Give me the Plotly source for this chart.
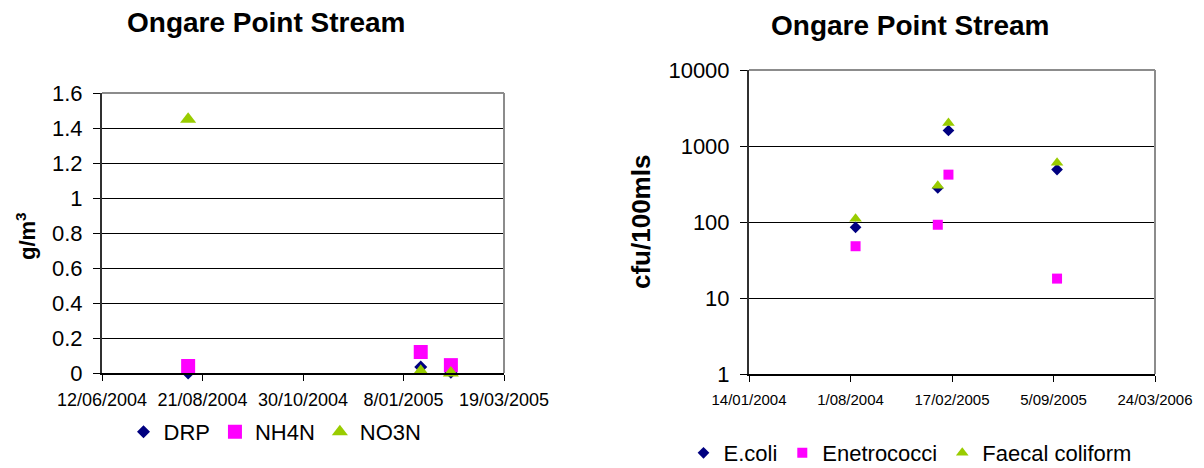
import plotly.graph_objects as go

# ---- Nutrients (g/m3), Ongare Point Stream ----
nutrient_dates = ["2004-08-11", "2005-01-20", "2005-02-10"]
drp = [0.0, 0.035, 0.005]
nh4n = [0.04, 0.12, 0.045]
no3n = [1.45, 0.01, 0.0]

# ---- Bacteria (cfu/100mls), Ongare Point Stream ----
bacteria_dates = ["2004-08-11", "2005-01-20", "2005-02-10", "2005-09-12"]
e_coli = [85, 280, 1600, 490]
enterococci = [48, 92, 420, 18]
faecal_coliform = [110, 300, 2000, 600]

# ---- Axis ticks ----
left_tick_dates = ["2004-06-12", "2004-08-21", "2004-10-30", "2005-01-08", "2005-03-19"]
left_tick_labels = ["12/06/2004", "21/08/2004", "30/10/2004", "8/01/2005", "19/03/2005"]
left_y_ticks = [0, 0.2, 0.4, 0.6, 0.8, 1.0, 1.2, 1.4, 1.6]

right_tick_dates = ["2004-01-14", "2004-08-01", "2005-02-17", "2005-09-05", "2006-03-24"]
right_tick_labels = ["14/01/2004", "1/08/2004", "17/02/2005", "5/09/2005", "24/03/2006"]
right_y_ticks = [1, 10, 100, 1000, 10000]

FONT = "Liberation Sans, Arial, sans-serif"
NAVY = "#000080"
MAGENTA = "#FF00FF"
LIME = "#99CC00"

W, H = 1204, 468

fig = go.Figure()

# Left panel: nutrients
fig.add_trace(go.Scatter(x=nutrient_dates, y=drp, name="DRP", mode="markers",
                         marker=dict(symbol="diamond", size=10, color=NAVY),
                         cliponaxis=False, xaxis="x", yaxis="y", legend="legend"))
fig.add_trace(go.Scatter(x=nutrient_dates, y=nh4n, name="NH4N", mode="markers",
                         marker=dict(symbol="square", size=14, color=MAGENTA),
                         cliponaxis=False, xaxis="x", yaxis="y", legend="legend"))
fig.add_trace(go.Scatter(x=nutrient_dates, y=no3n, name="NO3N", mode="markers",
                         marker=dict(symbol="triangle-up", size=14, color=LIME),
                         cliponaxis=False, xaxis="x", yaxis="y", legend="legend"))

# Right panel: bacteria
fig.add_trace(go.Scatter(x=bacteria_dates, y=e_coli, name="E.coli", mode="markers",
                         marker=dict(symbol="diamond", size=9, color=NAVY),
                         xaxis="x2", yaxis="y2", legend="legend2"))
fig.add_trace(go.Scatter(x=bacteria_dates, y=enterococci, name="Enetrococci", mode="markers",
                         marker=dict(symbol="square", size=10, color=MAGENTA),
                         xaxis="x2", yaxis="y2", legend="legend2"))
fig.add_trace(go.Scatter(x=bacteria_dates, y=faecal_coliform, name="Faecal coliform", mode="markers",
                         marker=dict(symbol="triangle-up", size=11, color=LIME),
                         xaxis="x2", yaxis="y2", legend="legend2"))


def px_x(v):
    return v / W


def px_y(v):
    return 1 - v / H


common_x = dict(type="date", tickmode="array", ticks="outside", ticklen=6,
                tickcolor="black", showline=True, linecolor="black", linewidth=2,
                showgrid=False, zeroline=False, fixedrange=True, automargin=False)

common_y = dict(tickmode="array", ticks="outside", ticklen=7, tickcolor="black",
                showline=True, linecolor="#303030", linewidth=2,
                showgrid=True, gridcolor="black", gridwidth=1, zeroline=False,
                fixedrange=True, automargin=False, ticklabelstandoff=6)

fig.update_layout(
    width=W, height=H,
    margin=dict(l=0, r=0, t=0, b=0, autoexpand=False),
    paper_bgcolor="white", plot_bgcolor="white",
    font=dict(family=FONT, color="black"),
    showlegend=True,
    xaxis=dict(common_x, domain=[px_x(102), px_x(504)], anchor="y",
               range=[left_tick_dates[0], left_tick_dates[-1]],
               tickvals=left_tick_dates, ticktext=left_tick_labels,
               tickfont=dict(size=18), ticklabelstandoff=3),
    yaxis=dict(common_y, domain=[px_y(373), px_y(93)], anchor="x", range=[0, 1.6],
               tickvals=left_y_ticks, tickfont=dict(size=22)),
    xaxis2=dict(common_x, domain=[px_x(749), px_x(1155)], anchor="y2",
                range=[right_tick_dates[0], right_tick_dates[-1]],
                tickvals=right_tick_dates, ticktext=right_tick_labels,
                tickfont=dict(size=15), ticklabelstandoff=5),
    yaxis2=dict(common_y, domain=[px_y(374), px_y(70)], anchor="x2", type="log", range=[0, 4],
                tickvals=right_y_ticks, ticktext=[str(v) for v in right_y_ticks],
                tickfont=dict(size=22)),
    legend=dict(orientation="h", x=px_x(275), xanchor="center",
                y=px_y(432), yanchor="middle", font=dict(size=22),
                bgcolor="rgba(0,0,0,0)", itemwidth=30),
    legend2=dict(orientation="h", x=px_x(910), xanchor="center",
                 y=px_y(453), yanchor="middle", font=dict(size=22),
                 bgcolor="rgba(0,0,0,0)", itemwidth=30),
)

# Gray top and right borders of each plot area
for xr, yr in (("x domain", "y domain"), ("x2 domain", "y2 domain")):
    fig.add_shape(type="line", xref=xr, yref=yr, x0=0, x1=1, y0=1, y1=1,
                  line=dict(color="#8c8c8c", width=2), layer="above")
    fig.add_shape(type="line", xref=xr, yref=yr, x0=1, x1=1, y0=0, y1=1,
                  line=dict(color="#8c8c8c", width=2), layer="above")

# Chart titles
fig.add_annotation(text="<b>Ongare Point Stream</b>", xref="paper", yref="paper",
                   x=px_x(266), y=px_y(22), xanchor="center", yanchor="middle",
                   showarrow=False, font=dict(size=28))
fig.add_annotation(text="<b>Ongare Point Stream</b>", xref="paper", yref="paper",
                   x=px_x(910), y=px_y(25), xanchor="center", yanchor="middle",
                   showarrow=False, font=dict(size=28))

# Y-axis titles
fig.add_annotation(text="<b>g/m<sup>3</sup></b>", xref="paper", yref="paper",
                   x=px_x(26), y=px_y(236), xanchor="center", yanchor="middle",
                   textangle=-90, showarrow=False, font=dict(size=22))
fig.add_annotation(text="<b>cfu/100mls</b>", xref="paper", yref="paper",
                   x=px_x(641), y=px_y(222), xanchor="center", yanchor="middle",
                   textangle=-90, showarrow=False, font=dict(size=26))

fig.write_html("out.html")
